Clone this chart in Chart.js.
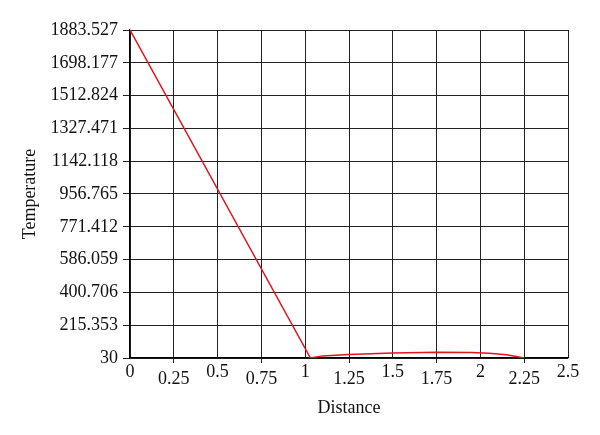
<!DOCTYPE html>
<html>
<head>
<meta charset="utf-8">
<script src="https://cdn.jsdelivr.net/npm/chart.js@4/dist/chart.umd.min.js"></script>
<style>
html,body{margin:0;padding:0;background:#fff;}
#wrap{width:600px;height:435px;}
</style>
</head>
<body>
<div id="wrap"><canvas id="c" width="600" height="435"></canvas></div>
<script>
const distance = [0, 1.03, 1.1, 1.25, 1.5, 1.75, 1.95, 2.05, 2.15, 2.25];
const temperature = [1883.527, 30, 42, 50, 58, 63, 61, 57, 48, 30];
const xTickValues = [0, 0.25, 0.5, 0.75, 1, 1.25, 1.5, 1.75, 2, 2.25, 2.5];
const xTickLabels = ['0', '0.25', '0.5', '0.75', '1', '1.25', '1.5', '1.75', '2', '2.25', '2.5'];
const yTickValues = [30, 215.353, 400.706, 586.059, 771.412, 956.765, 1142.118, 1327.471, 1512.824, 1698.177, 1883.527];
const yTickLabels = ['30', '215.353', '400.706', '586.059', '771.412', '956.765', '1142.118', '1327.471', '1512.824', '1698.177', '1883.527'];

const FONT = '"Liberation Serif", "DejaVu Serif", serif';

new Chart(document.getElementById('c'), {
  type: 'line',
  data: {
    datasets: [{
      data: distance.map((d, i) => ({x: d, y: temperature[i]})),
      borderColor: '#e0141a',
      borderWidth: 1.5,
      pointRadius: 0,
      tension: 0,
      fill: false
    }]
  },
  options: {
    responsive: false,
    animation: false,
    events: [],
    layout: {padding: {left: 0, right: 32, top: 30, bottom: 0}},
    plugins: {legend: {display: false}, tooltip: {enabled: false}},
    scales: {
      x: {
        type: 'linear',
        min: 0, max: 2.5,
        afterBuildTicks: s => { s.ticks = xTickValues.map(v => ({value: v})); },
        afterFit: s => { s.height = 77; },
        border: {color: '#000', width: 1.2},
        grid: {
          color: '#222',
          lineWidth: 1,
          tickLength: 5,
          tickColor: ctx => (ctx.index % 2 === 1 ? '#222' : 'rgba(0,0,0,0)')
        },
        ticks: {
          color: '#111',
          padding: 5,
          maxRotation: 0,
          autoSkip: false,
          font: {family: FONT, size: 18, lineHeight: 0.42},
          callback: (v, i) => (i % 2 === 1 ? ['', xTickLabels[i]] : xTickLabels[i])
        },
        title: {
          display: true,
          text: 'Distance',
          color: '#111',
          font: {family: FONT, size: 18},
          padding: {top: 0, bottom: 16}
        }
      },
      y: {
        type: 'linear',
        min: 30, max: 1883.527,
        afterBuildTicks: s => { s.ticks = yTickValues.map(v => ({value: v})); },
        afterFit: s => { s.width = 130; },
        border: {color: '#000', width: 1.2},
        grid: {color: '#222', lineWidth: 1, tickLength: 7, tickColor: '#222'},
        ticks: {
          color: '#111',
          padding: 5,
          autoSkip: false,
          font: {family: FONT, size: 18},
          callback: (v, i) => yTickLabels[i]
        },
        title: {
          display: true,
          text: 'Temperature',
          color: '#111',
          font: {family: FONT, size: 18},
          padding: {top: 19, bottom: 0}
        }
      }
    }
  }
});
</script>
</body>
</html>
